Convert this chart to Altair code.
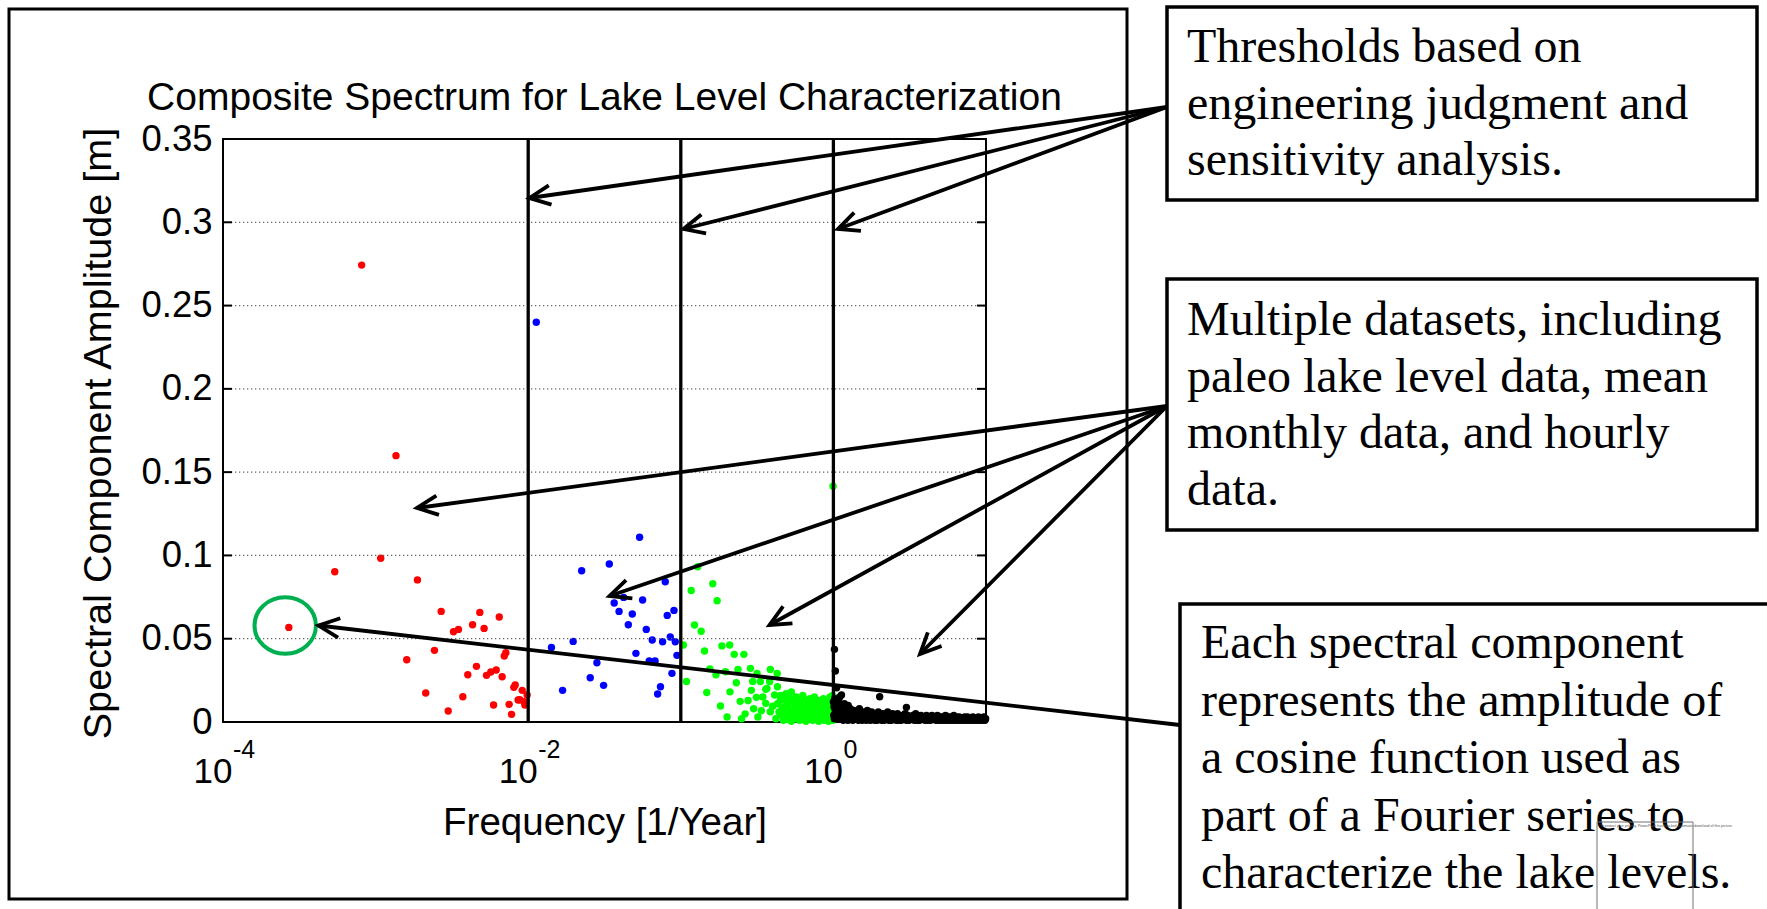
import math
import altair as alt
import pandas as pd

# ------------------------------------------------------------------ data
# (frequency [1/year], amplitude [m])
RED = [
    (0.00027, 0.0568), (0.00054, 0.0902), (0.00081, 0.2743), (0.00108, 0.0983),
    (0.00136, 0.1599), (0.00188, 0.0853), (0.00269, 0.0664), (0.00482, 0.0658),
    (0.00646, 0.0630), (0.00432, 0.0584), (0.00514, 0.0562), (0.00324, 0.0542),
    (0.00349, 0.0556), (0.00243, 0.0430), (0.00160, 0.0374), (0.00714, 0.0416),
    (0.00697, 0.0396), (0.00458, 0.0334), (0.00402, 0.0284), (0.00533, 0.0280),
    (0.00569, 0.0300), (0.00617, 0.0312), (0.00675, 0.0272), (0.00213, 0.0174),
    (0.00373, 0.0152), (0.00299, 0.0066), (0.00593, 0.0102), (0.00750, 0.0106),
    (0.00778, 0.0046), (0.00822, 0.0222), (0.00805, 0.0208), (0.00914, 0.0190),
    (0.00859, 0.0132), (0.00881, 0.0134), (0.00951, 0.0102), (0.00984, 0.0162),
    (0.00938, 0.0122),
]
BLUE = [
    (0.0113, 0.2400), (0.0537, 0.1109), (0.0340, 0.0949), (0.0224, 0.0908),
    (0.0791, 0.0842), (0.0422, 0.0748), (0.0366, 0.0714), (0.0562, 0.0732),
    (0.0394, 0.0664), (0.0481, 0.0648), (0.0902, 0.0670), (0.0815, 0.0640),
    (0.0453, 0.0584), (0.0594, 0.0556), (0.0650, 0.0492), (0.0853, 0.0510),
    (0.0760, 0.0482), (0.0920, 0.0482), (0.0197, 0.0484), (0.0142, 0.0448),
    (0.0508, 0.0412), (0.0282, 0.0356), (0.0621, 0.0366), (0.0678, 0.0366),
    (0.0944, 0.0400), (0.0255, 0.0266), (0.0312, 0.0220), (0.0168, 0.0190),
    (0.0875, 0.0292), (0.0736, 0.0212), (0.0705, 0.0168),
]
GREEN = [
    (0.995, 0.1416), (0.129, 0.0932), (0.117, 0.0789), (0.162, 0.0830),
    (0.173, 0.0728), (0.123, 0.0582), (0.136, 0.0545), (0.104, 0.0462),
    (0.143, 0.0426), (0.186, 0.0457), (0.209, 0.0462), (0.224, 0.0406),
    (0.259, 0.0406), (0.109, 0.0243), (0.148, 0.0177), (0.155, 0.0319),
    (0.170, 0.0283), (0.196, 0.0302), (0.182, 0.0096), (0.201, 0.0030),
    (0.210, 0.0181), (0.231, 0.0236), (0.237, 0.0315), (0.264, 0.0049),
    (0.245, 0.0124), (0.286, 0.0322), (0.296, 0.0243), (0.316, 0.0291),
    (0.276, 0.0129), (0.313, 0.0148), (0.332, 0.0243), (0.386, 0.0315),
    (0.337, 0.0068), (0.360, 0.0196), (0.382, 0.0243), (0.428, 0.0291),
    (0.367, 0.0202), (0.430, 0.0212), (0.250, 0.0020), (0.320, 0.0030),
    (0.412, 0.0162), (0.450, 0.0132), (0.360, 0.0112), (0.386, 0.0062),
    (0.345, 0.0150), (0.300, 0.0080), (0.290, 0.0190), (0.400, 0.0095),
]
GREEN_DENSE = [
    (0.43, 0.011), (0.45, 0.016), (0.46, 0.009), (0.48, 0.013), (0.49, 0.017),
    (0.50, 0.010), (0.52, 0.014), (0.53, 0.018), (0.54, 0.012), (0.55, 0.008),
    (0.57, 0.015), (0.58, 0.011), (0.59, 0.013), (0.60, 0.009), (0.62, 0.012),
    (0.63, 0.016), (0.64, 0.010), (0.66, 0.013), (0.67, 0.008), (0.68, 0.011),
    (0.70, 0.014), (0.71, 0.009), (0.72, 0.012), (0.74, 0.010), (0.75, 0.015),
    (0.77, 0.008), (0.78, 0.011), (0.80, 0.013), (0.81, 0.009), (0.83, 0.012),
    (0.84, 0.010), (0.86, 0.014), (0.87, 0.008), (0.89, 0.011), (0.90, 0.013),
    (0.92, 0.009), (0.93, 0.012), (0.95, 0.015), (0.96, 0.010), (0.98, 0.013),
    (0.99, 0.016),
    (0.44, 0.006), (0.455, 0.004), (0.47, 0.007), (0.485, 0.005), (0.51, 0.006),
    (0.515, 0.003), (0.535, 0.007), (0.56, 0.005), (0.565, 0.004), (0.585, 0.006),
    (0.61, 0.003), (0.615, 0.007), (0.635, 0.005), (0.65, 0.004), (0.655, 0.006),
    (0.69, 0.003), (0.695, 0.005), (0.73, 0.007), (0.735, 0.004), (0.76, 0.006),
    (0.765, 0.003), (0.79, 0.005), (0.795, 0.007), (0.82, 0.004), (0.825, 0.006),
    (0.85, 0.003), (0.855, 0.005), (0.88, 0.007), (0.885, 0.004), (0.91, 0.006),
    (0.915, 0.003), (0.94, 0.005), (0.945, 0.007), (0.97, 0.004), (0.975, 0.006),
    (0.985, 0.005), (0.995, 0.003),
    (0.42, 0.002), (0.47, 0.001), (0.50, 0.0015), (0.53, 0.0005), (0.56, 0.002),
    (0.60, 0.001), (0.63, 0.0015), (0.66, 0.0005), (0.70, 0.002), (0.73, 0.001),
    (0.77, 0.0015), (0.80, 0.0005), (0.84, 0.002), (0.87, 0.001), (0.90, 0.0015),
    (0.93, 0.0005), (0.96, 0.002), (0.99, 0.001),
]
BLACK = [
    (1.016, 0.0436), (1.03, 0.0306), (1.13, 0.0162), (2.01, 0.0152), (3.01, 0.0088),
    (1.05, 0.0205), (1.08, 0.0135), (1.02, 0.0120), (1.10, 0.0150), (1.18, 0.0110),
    (1.25, 0.0100),
    (1.00, 0.012), (1.01, 0.009), (1.02, 0.014), (1.03, 0.008), (1.05, 0.011),
    (1.06, 0.007), (1.08, 0.010), (1.10, 0.006), (1.12, 0.009), (1.15, 0.008),
    (1.17, 0.006), (1.20, 0.007), (1.23, 0.009), (1.26, 0.005), (1.29, 0.008),
    (1.32, 0.006), (1.36, 0.007), (1.40, 0.005), (1.44, 0.006), (1.48, 0.008),
    (1.52, 0.005), (1.57, 0.006), (1.62, 0.004), (1.67, 0.007), (1.72, 0.005),
    (1.78, 0.006), (1.84, 0.004), (1.90, 0.005), (1.97, 0.006), (2.04, 0.004),
    (2.11, 0.005), (2.19, 0.004), (2.27, 0.006), (2.35, 0.004), (2.44, 0.005),
    (2.53, 0.004), (2.63, 0.005), (2.73, 0.003), (2.84, 0.004), (2.95, 0.005),
    (3.07, 0.004), (3.19, 0.003), (3.32, 0.004), (3.46, 0.005), (3.60, 0.003),
    (3.75, 0.004), (3.91, 0.003), (4.07, 0.004), (4.24, 0.003), (4.42, 0.004),
    (4.61, 0.003), (4.80, 0.004), (5.00, 0.003), (5.21, 0.003), (5.43, 0.004),
    (5.66, 0.003), (5.90, 0.003), (6.15, 0.004), (6.41, 0.003), (6.68, 0.003),
    (6.96, 0.002), (7.25, 0.003), (7.56, 0.003), (7.88, 0.002), (8.21, 0.003),
    (8.56, 0.002), (8.92, 0.003), (9.30, 0.002), (9.69, 0.003), (9.95, 0.002),
    (1.005, 0.004), (1.015, 0.002), (1.025, 0.005), (1.04, 0.003), (1.07, 0.002),
    (1.09, 0.004), (1.11, 0.002), (1.135, 0.003), (1.16, 0.001), (1.185, 0.003),
    (1.215, 0.002), (1.245, 0.001), (1.275, 0.003), (1.305, 0.002), (1.34, 0.001),
    (1.38, 0.002), (1.42, 0.003), (1.46, 0.001), (1.50, 0.002), (1.545, 0.001),
    (1.595, 0.002), (1.645, 0.001), (1.695, 0.002), (1.75, 0.001), (1.81, 0.002),
    (1.87, 0.001), (1.935, 0.001), (2.005, 0.002), (2.075, 0.001), (2.15, 0.001),
    (2.23, 0.002), (2.31, 0.001), (2.395, 0.001), (2.485, 0.002), (2.58, 0.001),
    (2.68, 0.001), (2.785, 0.001), (2.895, 0.002), (3.01, 0.001), (3.13, 0.001),
    (3.255, 0.002), (3.39, 0.001), (3.53, 0.001), (3.675, 0.001), (3.83, 0.002),
    (3.99, 0.001), (4.155, 0.001), (4.33, 0.001), (4.515, 0.002), (4.705, 0.001),
    (4.90, 0.001), (5.105, 0.001), (5.32, 0.001), (5.545, 0.001), (5.78, 0.001),
    (6.025, 0.001), (6.28, 0.001), (6.545, 0.001), (6.82, 0.001), (7.105, 0.001),
    (7.405, 0.001), (7.72, 0.001), (8.045, 0.001), (8.385, 0.001), (8.74, 0.001),
    (9.11, 0.001), (9.495, 0.001), (9.85, 0.001),
]
SERIES_NAMES = ["paleo", "long-term", "monthly", "hourly"]
SERIES_COLORS = ["#ff0000", "#0000ff", "#00ff00", "#000000"]

THRESHOLDS = [0.01, 0.1, 1.0]
Y_TICKS = [0, 0.05, 0.1, 0.15, 0.2, 0.25, 0.3, 0.35]
GRID_LINES = [0.05, 0.1, 0.15, 0.2, 0.25, 0.3]
X_LABEL_VALUES = [0.0001, 0.01, 1.0]
X_LABEL_EXPONENTS = ["-4", "-2", "0"]

TITLE = "Composite Spectrum for Lake Level Characterization"
X_TITLE = "Frequency [1/Year]"
Y_TITLE = "Spectral Component Amplitude [m]"

BOX_LINES = [
    ["Thresholds based on", "engineering judgment and", "sensitivity analysis."],
    ["Multiple datasets, including", "paleo lake level data, mean",
     "monthly data, and hourly", "data."],
    ["Each spectral component", "represents the amplitude of",
     "a cosine function used as", "part of a Fourier series to",
     "characterize the lake levels."],
]

# ------------------------------------------------------------------ layout (page pixels)
PAGE_W, PAGE_H = 1767, 909
OX, OY = 223, 139           # plot-area origin on the page
W, H = 763, 583             # plot-area size
SANS = "Liberation Sans"
SERIF = "Liberation Serif"

BOX_RECTS = [(1167, 7, 1757, 200), (1167, 279, 1757, 530), (1180, 604, 1800, 940)]
BOX_TEXT_POS = [(1187, 62, 56.5), (1187, 335, 56.5), (1201, 658, 57.5)]
FIG_FRAME = (9, 9, 1127, 899)
ARROWS = [
    ((1167, 107), [(529.5, 198), (683.5, 229), (838, 229)]),
    ((1167, 406), [(417, 508), (609.5, 596), (769.5, 625), (920, 654)]),
    ((1180, 725), [(318.5, 625.5)]),
]
HEAD_LEN, HEAD_ANG = 23, math.radians(25)
WATERMARK = (1597, 822, 1693, 940)


def px(x):
    return x - OX


def py(y):
    return y - OY


# ------------------------------------------------------------------ frames
rows = []
for name, pts in zip(SERIES_NAMES, [RED, BLUE, GREEN + GREEN_DENSE, BLACK]):
    for f, a in pts:
        rows.append({"freq": f, "amp": a, "series": name})
points_df = pd.DataFrame(rows)

xscale = alt.Scale(type="log", domain=[0.0001, 10], nice=False)
yscale = alt.Scale(domain=[0, 0.35], nice=False, zero=False)

x_axis = alt.Axis(labels=False, ticks=False, domain=False, grid=False,
                  title=X_TITLE, titleFont=SANS, titleFontSize=38.5,
                  titleFontWeight="normal", titleColor="black",
                  titleX=W / 2, titleY=112, titleAlign="center",
                  titleBaseline="alphabetic")
y_axis = alt.Axis(values=Y_TICKS, format="~g", labelFont=SANS, labelFontSize=36.5,
                  labelColor="black", labelPadding=11, ticks=False, domain=False,
                  grid=False, title=Y_TITLE, titleFont=SANS, titleFontSize=39.6,
                  titleFontWeight="normal", titleColor="black", titleAngle=270,
                  titleX=-113, titleY=294, titleAlign="center",
                  titleBaseline="alphabetic")

points = alt.Chart(points_df).mark_circle(size=55, opacity=1).encode(
    x=alt.X("freq:Q", scale=xscale, axis=x_axis),
    y=alt.Y("amp:Q", scale=yscale, axis=y_axis),
    color=alt.Color("series:N", scale=alt.Scale(domain=SERIES_NAMES, range=SERIES_COLORS),
                    legend=None),
)

grid = alt.Chart(pd.DataFrame({"amp": GRID_LINES})).mark_rule(
    color="#666666", strokeWidth=1.2, strokeDash=[1.3, 2.7]
).encode(y="amp:Q", x=alt.value(0), x2=alt.value(W))

ticks_df = pd.DataFrame({"amp": Y_TICKS})
ticks_left = alt.Chart(ticks_df).mark_rule(color="black", strokeWidth=2).encode(
    y="amp:Q", x=alt.value(0), x2=alt.value(9))
ticks_right = alt.Chart(ticks_df).mark_rule(color="black", strokeWidth=2).encode(
    y="amp:Q", x=alt.value(W - 9), x2=alt.value(W))

thresholds = alt.Chart(pd.DataFrame({"freq": THRESHOLDS})).mark_rule(
    color="black", strokeWidth=3.3).encode(x="freq:Q")

xlab_df = pd.DataFrame({"freq": X_LABEL_VALUES, "exp": X_LABEL_EXPONENTS})
xlab_base = alt.Chart(xlab_df).mark_text(
    font=SANS, fontSize=35, align="right", baseline="alphabetic", dx=9.5, color="black"
).encode(x="freq:Q", y=alt.value(H + 61), text=alt.value("10"))
xlab_exp = alt.Chart(xlab_df).mark_text(
    font=SANS, fontSize=25, align="left", baseline="alphabetic", dx=10, color="black"
).encode(x="freq:Q", y=alt.value(H + 36), text="exp:N")

title = alt.Chart(pd.DataFrame({"t": [TITLE]})).mark_text(
    font=SANS, fontSize=39, align="center", baseline="alphabetic", color="black"
).encode(x=alt.value(W / 2), y=alt.value(-29), text="t:N")

# green ellipse around the highlighted red component
ELLIPSE = "M-1,0A1,0.92,0,1,0,1,0A1,0.92,0,1,0,-1,0Z"
hl_df = pd.DataFrame({"freq": [RED[0][0]], "amp": [RED[0][1]]})
ellipse = alt.Chart(hl_df).mark_point(
    shape=ELLIPSE, size=3770, filled=False, color="#00b050", strokeWidth=4,
    opacity=1, xOffset=-3.6, yOffset=-1.9
).encode(x="freq:Q", y="amp:Q")

# arrows (annotation geometry, page pixels -> plot pixels)
shaft_rows, head_rows = [], []
aid = 0
for origin, tips in ARROWS:
    for tip in tips:
        shaft_rows.append({"x": px(tip[0]), "y": py(tip[1]),
                           "x2": px(origin[0]), "y2": py(origin[1])})
        dx, dy = origin[0] - tip[0], origin[1] - tip[1]
        L = math.hypot(dx, dy)
        ux, uy = dx / L, dy / L
        wings = []
        for s in (1, -1):
            c, sn = math.cos(s * HEAD_ANG), math.sin(s * HEAD_ANG)
            wings.append((tip[0] + HEAD_LEN * (ux * c - uy * sn),
                          tip[1] + HEAD_LEN * (ux * sn + uy * c)))
        for k, (hx, hy) in enumerate([wings[0], tip, wings[1]]):
            head_rows.append({"aid": aid, "k": k, "x": px(hx), "y": py(hy)})
        aid += 1

shafts = alt.Chart(pd.DataFrame(shaft_rows)).mark_rule(
    color="black", strokeWidth=3.8, strokeCap="butt"
).encode(x=alt.X("x:Q", scale=None), y=alt.Y("y:Q", scale=None),
         x2="x2:Q", y2="y2:Q")
heads = alt.Chart(pd.DataFrame(head_rows)).mark_line(
    color="black", strokeWidth=3.8, strokeJoin="miter", strokeCap="butt"
).encode(x=alt.X("x:Q", scale=None), y=alt.Y("y:Q", scale=None),
         detail="aid:N", order="k:Q")

fx0, fy0, fx1, fy1 = FIG_FRAME
frame = alt.Chart(pd.DataFrame([{"x": px(fx0), "y": py(fy0), "x2": px(fx1), "y2": py(fy1)}])
                  ).mark_rect(fillOpacity=0, stroke="black", strokeWidth=3).encode(
    x=alt.X("x:Q", scale=None), y=alt.Y("y:Q", scale=None), x2="x2:Q", y2="y2:Q")

boxes = alt.Chart(pd.DataFrame([{"x": px(a), "y": py(b), "x2": px(c), "y2": py(d)}
                                for a, b, c, d in BOX_RECTS])).mark_rect(
    fill="white", stroke="black", strokeWidth=3.5).encode(
    x=alt.X("x:Q", scale=None), y=alt.Y("y:Q", scale=None), x2="x2:Q", y2="y2:Q")

text_rows = []
for lines, (tx, ty, gap) in zip(BOX_LINES, BOX_TEXT_POS):
    for i, line in enumerate(lines):
        text_rows.append({"x": px(tx), "y": py(ty + i * gap), "text": line})
box_text = alt.Chart(pd.DataFrame(text_rows)).mark_text(
    font=SERIF, fontSize=48, align="left", baseline="alphabetic", color="black"
).encode(x=alt.X("x:Q", scale=None), y=alt.Y("y:Q", scale=None), text="text:N")

wx0, wy0, wx1, wy1 = WATERMARK
wm_rect = alt.Chart(pd.DataFrame([{"x": px(wx0), "y": py(wy0), "x2": px(wx1), "y2": py(wy1)}])
                    ).mark_rect(fillOpacity=0, stroke="#707070", strokeWidth=1).encode(
    x=alt.X("x:Q", scale=None), y=alt.Y("y:Q", scale=None), x2="x2:Q", y2="y2:Q")
wm_text = alt.Chart(pd.DataFrame([{
    "x": px(wx0 + 3), "y": py(wy0 + 5),
    "text": "To protect your privacy, PowerPoint has blocked automatic download of this picture."}])
).mark_text(font=SANS, fontSize=3.6, align="left", baseline="alphabetic", color="#555555").encode(
    x=alt.X("x:Q", scale=None), y=alt.Y("y:Q", scale=None), text="text:N")

chart = alt.layer(
    points, grid, ticks_left, ticks_right, thresholds, xlab_base, xlab_exp, title,
    ellipse, shafts, heads, frame, boxes, box_text, wm_rect, wm_text,
).properties(
    width=W, height=H,
    autosize=alt.AutoSizeParams(type="none"),
    padding={"left": OX, "top": OY, "right": PAGE_W - OX - W, "bottom": PAGE_H - OY - H},
    background="white",
).configure_view(stroke="black", strokeWidth=2)

chart.save("out.html", embed_options={"renderer": "svg", "actions": False})
